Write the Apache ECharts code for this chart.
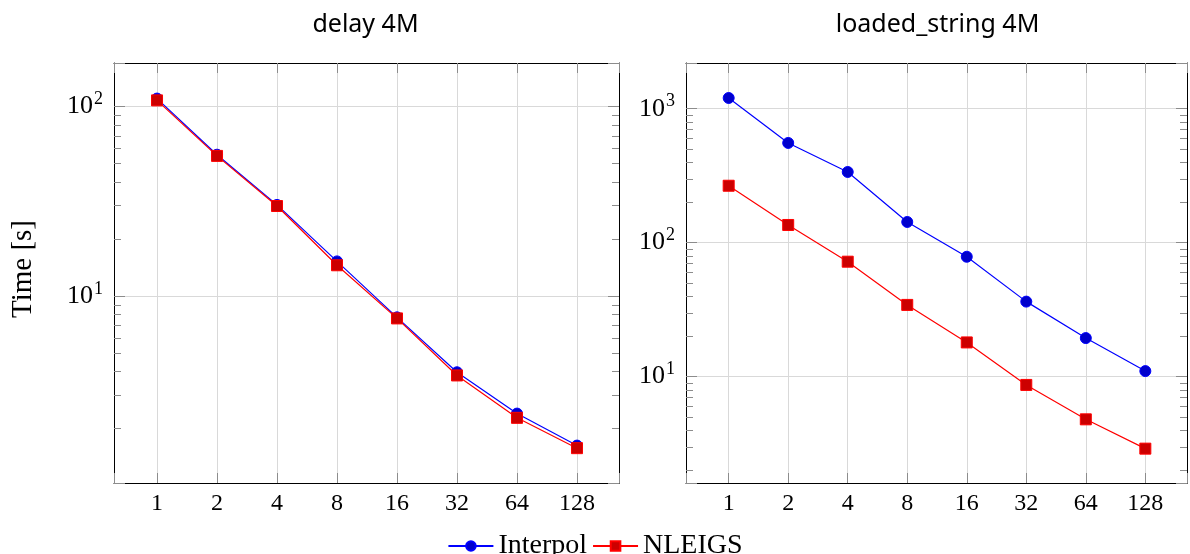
<!DOCTYPE html>
<html><head><meta charset="utf-8">
<script src="https://cdn.jsdelivr.net/npm/echarts@6/dist/echarts.min.js"></script>
<style>html,body{margin:0;padding:0;background:#fff}#c{width:1190px;height:554px}</style>
</head><body><div id="c"></div>
<script>
const threads = [1, 2, 4, 8, 16, 32, 64, 128];
const xTickLabels = ['1', '2', '4', '8', '16', '32', '64', '128'];
const delayInterpol = [110, 55.6, 30.2, 15.2, 7.7, 3.95, 2.39, 1.62];
const delayNleigs = [107.6, 54.8, 29.8, 14.5, 7.6, 3.8, 2.27, 1.57];
const loadedInterpol = [1202, 555, 337, 142.7, 78.5, 36.3, 19.4, 11.0];
const loadedNleigs = [266, 135.5, 72.1, 34.3, 18.0, 8.67, 4.8, 2.9];
const titles = ['delay 4M', 'loaded_string 4M'];
const seriesNames = ['Interpol', 'NLEIGS'];
const yLabel = 'Time [s]';
const minorTicksLeft = [2, 3, 4, 5, 6, 7, 8, 9, 20, 30, 40, 50, 60, 70, 80, 90];
const minorTicksRight = [2, 3, 4, 5, 6, 7, 8, 9, 20, 30, 40, 50, 60, 70, 80, 90, 200, 300, 400, 500, 600, 700, 800, 900];

const SERIF = 'Liberation Serif';
const GRID_C = '#d9d9d9';
const TICK_C = '#8c8c8c';

const grids = [
  { left: 114, top: 63, width: 505, height: 420 },
  { left: 686, top: 63, width: 505, height: 420 }
];
const yRanges = [[1.028, 169.5], [1.607, 2193]];
const xRange = [Math.pow(2, -0.717), Math.pow(2, 7.7)];

function isPow(v, b) {
  const l = Math.log(v) / Math.log(b);
  return Math.abs(l - Math.round(l)) < 1e-6;
}

const xAxes = [], yAxes = [];
grids.forEach((g, i) => {
  xAxes.push({
    type: 'log', logBase: 2, gridIndex: i, min: xRange[0], max: xRange[1], position: 'bottom',
    axisLine: { show: true, lineStyle: { color: '#000', width: 1 } },
    axisTick: { show: true, inside: true, length: 10, lineStyle: { color: TICK_C } },
    splitLine: { show: true, lineStyle: { color: GRID_C, width: 1 } },
    minorTick: { show: false }, minorSplitLine: { show: false },
    axisLabel: {
      margin: 9, color: '#000', fontFamily: SERIF, fontSize: 24,
      formatter: v => isPow(v, 2) ? (xTickLabels[threads.indexOf(Math.round(v))] || '') : ''
    }
  });
  xAxes.push({
    type: 'log', logBase: 2, gridIndex: i, min: xRange[0], max: xRange[1], position: 'top',
    axisLine: { show: true, lineStyle: { color: '#000', width: 1 } },
    axisTick: { show: true, inside: true, length: 10, lineStyle: { color: TICK_C } },
    splitLine: { show: false }, axisLabel: { show: false }
  });
  yAxes.push({
    type: 'log', logBase: 10, gridIndex: i, min: yRanges[i][0], max: yRanges[i][1], position: 'left',
    axisLine: { show: true, lineStyle: { color: '#000', width: 1 } },
    axisTick: { show: true, inside: true, length: 11, lineStyle: { color: TICK_C } },
    splitLine: { show: true, lineStyle: { color: GRID_C, width: 1 } },
    axisLabel: {
      margin: 11, color: '#000',
      formatter: v => isPow(v, 10) ? '{b|10}{s|' + Math.round(Math.log10(v)) + '}' : '',
      rich: {
        b: { fontFamily: SERIF, fontSize: 26, color: '#000' },
        s: { fontFamily: SERIF, fontSize: 18, color: '#000', padding: [0, 0, 14, 1] }
      }
    }
  });
  yAxes.push({
    type: 'log', logBase: 10, gridIndex: i, min: yRanges[i][0], max: yRanges[i][1], position: 'right',
    axisLine: { show: true, lineStyle: { color: '#000', width: 1 } },
    axisTick: { show: true, inside: true, length: 11, lineStyle: { color: TICK_C } },
    splitLine: { show: false }, axisLabel: { show: false }
  });
});

function minorTickSeries(gi, values) {
  return {
    type: 'custom', xAxisIndex: gi * 2, yAxisIndex: gi * 2, silent: true, z: 1,
    data: values.map(v => [1, v]),
    renderItem(params, api) {
      const cs = params.coordSys;
      const p = api.coord([api.value(0), api.value(1)]);
      const y = Math.round(p[1]) + 0.5;
      return {
        type: 'group', children: [
          { type: 'line', shape: { x1: cs.x, y1: y, x2: cs.x + 7, y2: y }, style: { stroke: TICK_C, lineWidth: 1 } },
          { type: 'line', shape: { x1: cs.x + cs.width - 7, y1: y, x2: cs.x + cs.width, y2: y }, style: { stroke: TICK_C, lineWidth: 1 } }
        ]
      };
    }
  };
}

function lineSeries(name, gi, values, isCircle) {
  return {
    name: name, type: 'line', xAxisIndex: gi * 2, yAxisIndex: gi * 2, z: 3,
    data: threads.map((t, k) => [t, values[k]]),
    symbol: isCircle ? 'circle' : 'rect', symbolSize: 11,
    lineStyle: { color: isCircle ? '#0000ff' : '#ff0000', width: 1.2 },
    itemStyle: { color: isCircle ? '#0000cc' : '#cc0000', borderColor: isCircle ? '#0000ff' : '#ff0000', borderWidth: 1 },
    emphasis: { disabled: true }
  };
}

const chart = echarts.init(document.getElementById('c'), null, { renderer: 'canvas' });
chart.setOption({
  animation: false,
  backgroundColor: '#fff',
  title: titles.map((t, i) => ({
    text: t, left: grids[i].left + grids[i].width / 2 - 6, textAlign: 'center', top: 7,
    textStyle: { fontFamily: 'Noto Sans', fontSize: 25, fontWeight: 'normal', color: '#000' }
  })),
  legend: {
    data: seriesNames, left: 'center', top: 527, itemWidth: 45, itemHeight: 12, itemGap: 5,
    textStyle: { fontFamily: SERIF, fontSize: 28, color: '#000' }
  },
  graphic: [{
    type: 'text', x: 23, y: 269, rotation: Math.PI / 2,
    style: { text: yLabel, fontFamily: SERIF, fontSize: 29, fill: '#000', align: 'center', verticalAlign: 'middle' }
  }],
  grid: grids,
  xAxis: xAxes,
  yAxis: yAxes,
  series: [
    minorTickSeries(0, minorTicksLeft),
    minorTickSeries(1, minorTicksRight),
    lineSeries(seriesNames[0], 0, delayInterpol, true),
    lineSeries(seriesNames[1], 0, delayNleigs, false),
    lineSeries(seriesNames[0], 1, loadedInterpol, true),
    lineSeries(seriesNames[1], 1, loadedNleigs, false)
  ]
});
</script></body></html>
